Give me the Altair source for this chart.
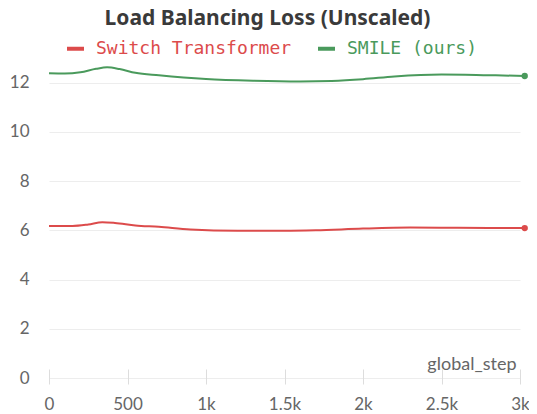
import altair as alt
import pandas as pd

green_steps = [0, 100, 200, 300, 370, 450, 550, 700, 1000, 1300, 1600, 1800, 2000, 2200, 2500, 2800, 3030]
green_vals = [12.38, 12.37, 12.42, 12.56, 12.62, 12.55, 12.40, 12.30, 12.15, 12.08, 12.05, 12.07, 12.14, 12.25, 12.33, 12.30, 12.27]

red_steps = [0, 150, 250, 340, 420, 550, 700, 900, 1200, 1500, 1700, 2000, 2300, 2600, 3030]
red_vals = [6.18, 6.18, 6.24, 6.33, 6.30, 6.20, 6.14, 6.03, 5.98, 5.98, 6.00, 6.07, 6.11, 6.10, 6.09]

series = ["Switch Transformer", "SMILE (ours)"]
colors = ["#dc4b4b", "#4a9a5c"]
x_ticks = [0, 500, 1000, 1500, 2000, 2500, 3000]
y_ticks = [0, 2, 4, 6, 8, 10, 12]

df = pd.concat([
    pd.DataFrame({"step": red_steps, "value": red_vals, "series": series[0]}),
    pd.DataFrame({"step": green_steps, "value": green_vals, "series": series[1]}),
])
last = df.groupby("series", as_index=False).last()

color = alt.Color(
    "series:N",
    scale=alt.Scale(domain=series, range=colors),
    legend=alt.Legend(
        title=None,
        orient="none",
        direction="horizontal",
        legendX=16,
        legendY=-20,
        symbolType="stroke",
        symbolSize=289,
        symbolStrokeWidth=4,
        labelFont="DejaVu Sans Mono",
        labelFontSize=18,
        labelLimit=0,
        labelColor={"expr": f"datum.value == '{series[1]}' ? '{colors[1]}' : '{colors[0]}'"},
        labelOffset=10,
        columnPadding=18,
    ),
)

x = alt.X(
    "step:Q",
    scale=alt.Scale(domain=[0, 3000], nice=False),
    axis=alt.Axis(
        values=x_ticks,
        labelExpr="datum.value >= 1000 ? (datum.value / 1000) + 'k' : datum.value",
        labelFlush=False,
        title="global_step",
        titleAnchor="end",
        titleAlign="right",
        titleX=467,
        titleY=0,
        titleBaseline="alphabetic",
        titleFont="Lato",
        titleFontSize=18,
        titleFontWeight="normal",
        titleColor="#666666",
        domain=False,
        grid=False,
        tickSize=15,
        tickColor="#dddddd",
        offset=-9,
        labelPadding=12,
        labelFont="Lato",
        labelFontSize=17,
        labelColor="#666666",
    ),
)
y = alt.Y(
    "value:Q",
    scale=alt.Scale(domain=[0, 13], nice=False),
    axis=alt.Axis(
        values=y_ticks,
        title=None,
        domain=False,
        ticks=False,
        grid=True,
        gridColor="#ededed",
        labelPadding=20,
        labelFont="Lato",
        labelFontSize=17,
        labelColor="#666666",
    ),
)

lines = alt.Chart(df).mark_line(interpolate="monotone", strokeWidth=2, clip=False).encode(
    x=x, y=y, color=color
)
dots = alt.Chart(last).mark_point(filled=True, size=40, opacity=1).encode(
    x="step:Q", y="value:Q", color=alt.Color("series:N", scale=alt.Scale(domain=series, range=colors), legend=None)
)

chart = (
    alt.layer(lines, dots)
    .properties(
        width=471,
        height=320,
        autosize=alt.AutoSizeParams(type="none"),
        padding={"left": 41, "top": 50, "right": 9, "bottom": 36},
        title=alt.TitleParams(
            "Load Balancing Loss (Unscaled)",
            font="Noto Sans",
            fontSize=21,
            fontWeight="bold",
            color="#3a3a3a",
            anchor="middle",
            frame="group",
            dx=-17,
            offset=9,
        ),
    )
    .configure_view(stroke=None)
)

chart.save("out.html", embed_options={"renderer": "svg", "actions": False})
